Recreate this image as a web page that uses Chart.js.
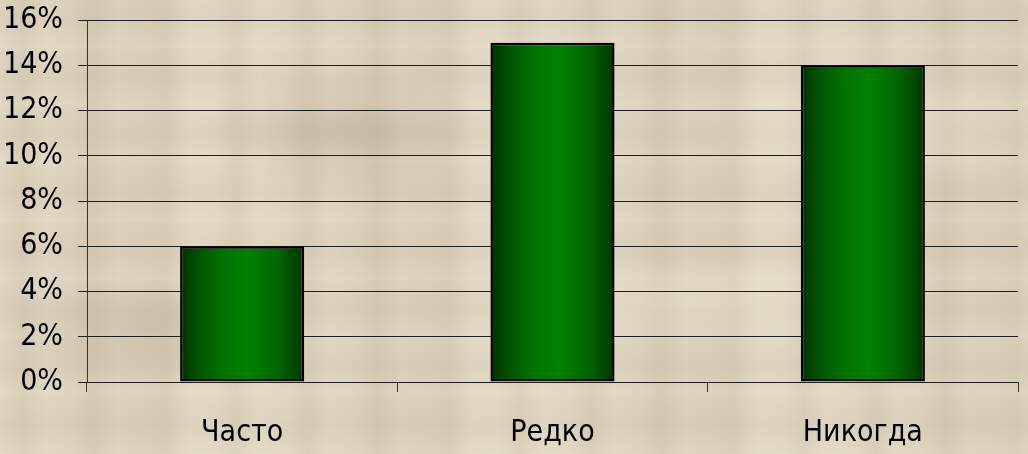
<!DOCTYPE html>
<html>
<head>
<meta charset="utf-8">
<script src="https://cdn.jsdelivr.net/npm/chart.js@4/dist/chart.umd.min.js"></script>
<style>
  html, body { margin: 0; padding: 0; }
  body {
    width: 1028px; height: 454px; overflow: hidden;
    background-color: #e1d6c1;
    /* размытая "газетная" фактура фона */
    background-image:
      radial-gradient(ellipse 140px 60px at 340px 130px, rgba(110,90,60,0.16), rgba(110,90,60,0) 100%),
      radial-gradient(ellipse 200px 40px at 700px 300px, rgba(255,250,235,0.25), rgba(255,250,235,0) 100%),
      radial-gradient(ellipse 160px 50px at 150px 330px, rgba(110,90,60,0.12), rgba(110,90,60,0) 100%),
      radial-gradient(ellipse 180px 70px at 880px 120px, rgba(255,250,235,0.22), rgba(255,250,235,0) 100%),
      repeating-linear-gradient(90deg, rgba(120,100,70,0.00) 0px, rgba(120,100,70,0.06) 23px, rgba(255,250,235,0.07) 47px, rgba(120,100,70,0.00) 71px),
      repeating-linear-gradient(0deg, rgba(255,250,235,0.08) 0px, rgba(120,100,70,0.05) 29px, rgba(255,250,235,0.00) 58px),
      repeating-linear-gradient(90deg, rgba(90,75,50,0.00) 0px, rgba(90,75,50,0.05) 130px, rgba(255,250,235,0.06) 210px, rgba(90,75,50,0.00) 283px);
  }
  #wrap { position: absolute; left: 0; top: 0; width: 1028px; height: 454px; }
</style>
</head>
<body>
<div id="wrap"><canvas id="chart"></canvas></div>
<script>
/* Daten */
const categories = ['Часто', 'Редко', 'Никогда'];
const values = [6, 15, 14];
const yTicks = [0, 2, 4, 6, 8, 10, 12, 14, 16];

const fontFamily = '"DejaVu Sans Condensed", "DejaVu Sans", sans-serif';
const barRatio = 0.4;

/* horizontaler Verlauf für jede Säule */
function barGradient(context) {
  const chart = context.chart;
  const area = chart.chartArea;
  if (!area) return '#007000';
  const xScale = chart.scales.x;
  const cx = xScale.getPixelForValue(context.dataIndex);
  const w = (area.right - area.left) / categories.length * barRatio;
  const g = chart.ctx.createLinearGradient(cx - w / 2, 0, cx + w / 2, 0);
  g.addColorStop(0, '#003000');
  g.addColorStop(0.15, '#005400');
  g.addColorStop(0.35, '#007400');
  g.addColorStop(0.55, '#008000');
  g.addColorStop(0.8, '#006400');
  g.addColorStop(1, '#003400');
  return g;
}

new Chart(document.getElementById('chart'), {
  type: 'bar',
  data: {
    labels: categories,
    datasets: [{
      data: values,
      backgroundColor: barGradient,
      borderColor: '#000000',
      borderWidth: 2.5,
      borderSkipped: false,
      categoryPercentage: 1,
      barPercentage: barRatio
    }]
  },
  options: {
    responsive: true,
    maintainAspectRatio: false,
    animation: false,
    layout: { padding: { top: 20, right: 10, left: 0, bottom: 0 } },
    plugins: { legend: { display: false }, tooltip: { enabled: false } },
    scales: {
      x: {
        offset: true,
        grid: {
          offset: true,
          drawOnChartArea: false,
          drawTicks: true,
          tickLength: 10,
          color: '#333333'
        },
        border: { display: false },
        ticks: {
          color: '#000000',
          padding: 23,
          font: { family: fontFamily, size: 30 }
        },
        afterFit: function(scale) {
          scale.height = 72;
          scale.paddingLeft = 0;
          scale.paddingRight = 0;
        }
      },
      y: {
        min: 0,
        max: 16,
        afterBuildTicks: function(scale) {
          scale.ticks = yTicks.map(v => ({ value: v }));
        },
        grid: {
          color: '#1e1e1e',
          lineWidth: 1,
          tickLength: 9
        },
        border: { display: true, color: '#333333', width: 1 },
        ticks: {
          color: '#000000',
          padding: 15,
          font: { family: fontFamily, size: 30 },
          callback: v => v + '%'
        },
        afterFit: function(scale) {
          scale.width = 87;
          scale.paddingTop = 0;
          scale.paddingBottom = 0;
        }
      }
    }
  }
});
</script>
</body>
</html>
